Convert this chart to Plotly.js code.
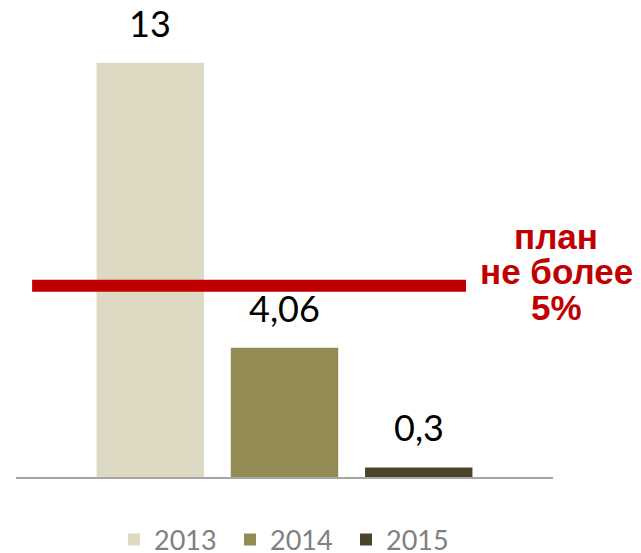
<!DOCTYPE html>
<html>
<head>
<meta charset="utf-8">
<script src="https://cdn.plot.ly/plotly-3.0.1.min.js"></script>
<style>html,body{margin:0;padding:0;background:#fff;}#chart{width:641px;height:553px;}</style>
</head>
<body>
<div id="chart"></div>
<script>
const years = ['2013', '2014', '2015'];
const values = [13, 4.06, 0.3];
const valueLabels = ['13', '4,06', '0,3'];
const barColors = ['#DDD9C3', '#948A54', '#4A452A'];
const planLevel = 6;
const planLines = ['план', 'не более', '5%'];

const traces = years.map((y, i) => ({
  type: 'bar',
  x: [y],
  y: [values[i]],
  name: y,
  width: 0.8,
  marker: {color: barColors[i]},
  hoverinfo: 'skip'
}));

const annotations = years.map((y, i) => ({
  x: i, y: values[i], xref: 'x', yref: 'y',
  text: valueLabels[i], showarrow: false,
  yanchor: 'bottom', yshift: 16,
  font: {family: 'Lato, sans-serif', size: 36, color: '#000'}
}));

const planCenters = [236, 271, 307];
planLines.forEach((t, i) => {
  annotations.push({
    xref: 'paper', yref: 'paper',
    x: (556 - 16) / 537, y: 1 - (planCenters[i] - 31) / 446,
    text: '<b>' + t + '</b>', showarrow: false,
    xanchor: 'center', yanchor: 'middle', height: 30, valign: 'middle', borderpad: 0,
    font: {family: 'Liberation Sans, Arial, sans-serif', size: 35, color: '#C00000'}
  });
});

const layout = {
  width: 641, height: 553,
  margin: {l: 16, r: 88, t: 31, b: 76, autoexpand: false},
  paper_bgcolor: '#fff', plot_bgcolor: '#fff',
  barmode: 'overlay',
  showlegend: true,
  legend: {
    orientation: 'h', x: (114 - 16) / 537, xanchor: 'left',
    yref: 'paper', y: 1 - (540 - 31) / 446, yanchor: 'middle',
    entrywidth: 71,
    font: {family: 'Lato, sans-serif', size: 27, color: '#808080'},
    itemclick: false, itemdoubleclick: false
  },
  xaxis: {
    type: 'category', range: [-1, 3],
    showline: true, linecolor: '#A6A6A6', linewidth: 2,
    showticklabels: false, ticks: '', showgrid: false, zeroline: false, fixedrange: true
  },
  yaxis: {
    range: [0, 14], visible: false, showgrid: false, zeroline: false, fixedrange: true
  },
  shapes: [{
    type: 'line', xref: 'x', yref: 'y',
    x0: -0.88, x1: 2.352, y0: planLevel, y1: planLevel,
    line: {color: '#C00000', width: 12}
  }],
  annotations: annotations
};

Plotly.newPlot('chart', traces, layout, {displayModeBar: false, staticPlot: true});
</script>
</body>
</html>
